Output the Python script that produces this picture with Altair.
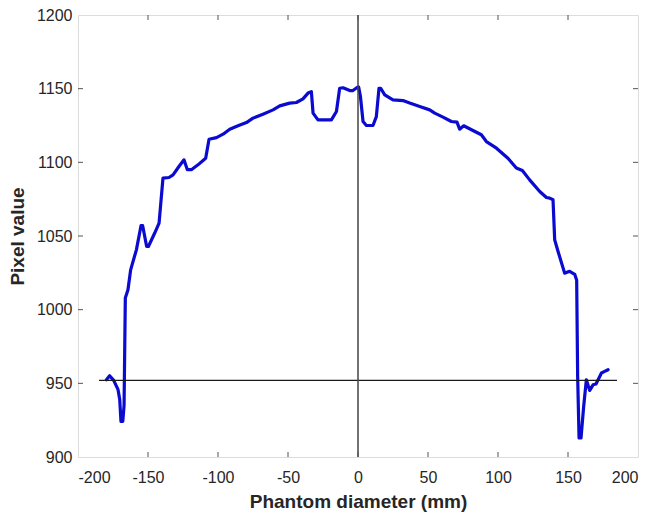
import altair as alt
import pandas as pd

# Profile curve
curve_x = [-179.7, -177.4, -174.5, -171.4, -170.2, -169.3, -168.0, -167.1, -166.2, -164.3,
           -162.4, -158.3, -155.0, -153.8, -151.0, -149.7, -145.2, -142.1, -139.3, -135.0,
           -132.1, -127.9, -124.3, -121.9, -119.0, -114.3, -108.8, -106.4, -101.1, -96.4,
           -91.6, -85.7, -79.7, -75.0, -67.9, -60.7, -55.9, -48.8, -44.0, -39.3,
           -35.7, -33.3, -32.1, -28.6, -19.0, -15.4, -13.1, -10.7, -5.9, -3.6,
           -0.4, 0.5, 1.7, 3.6, 6.0, 10.7, 13.1, 15.0, 16.2, 19.1,
           25.0, 32.1, 36.9, 44.1, 51.2, 54.8, 60.7, 66.7, 70.7, 72.6,
           75.5, 82.1, 88.1, 91.7, 98.9, 107.1, 113.1, 117.4, 122.6, 129.8,
           134.6, 136.9, 139.3, 140.5, 142.9, 147.6, 151.2, 154.8, 156.2, 156.9,
           157.9, 159.3, 161.2, 163.1, 165.5, 167.9, 170.0, 173.9, 176.2, 178.6]
curve_y = [952.4, 955.2, 952.0, 945.7, 939.0, 924.2, 924.2, 935.0, 1008.0, 1013.5,
           1027.0, 1040.6, 1057.0, 1057.0, 1043.0, 1042.9, 1052.0, 1058.7, 1089.3, 1089.7,
           1091.5, 1097.2, 1101.7, 1095.0, 1095.0, 1098.3, 1102.8, 1115.7, 1116.8, 1119.1,
           1122.5, 1124.8, 1127.0, 1130.0, 1132.7, 1135.6, 1138.3, 1140.2, 1140.6, 1143.1,
           1147.0, 1148.0, 1133.4, 1128.8, 1128.8, 1134.5, 1150.3, 1150.6, 1148.7, 1148.7,
           1151.0, 1151.0, 1145.0, 1127.7, 1125.0, 1125.0, 1131.0, 1150.3, 1150.3, 1145.8,
           1142.4, 1141.9, 1140.2, 1137.9, 1135.6, 1133.4, 1130.7, 1127.7, 1127.3, 1122.5,
           1124.8, 1121.6, 1118.7, 1114.1, 1109.6, 1102.8, 1096.1, 1094.4, 1088.1, 1080.2,
           1076.1, 1075.7, 1074.6, 1047.4, 1039.5, 1024.8, 1026.0, 1024.0, 1020.0, 954.7,
           912.9, 912.9, 934.3, 952.4, 945.2, 949.0, 949.5, 957.0, 958.1, 959.2]

# Reference lines
hline_x = [-185.0]
hline_x2 = [185.0]
hline_y = [952.0]
vline_x = [0.0]

# Axis ticks
x_ticks = [-200, -150, -100, -50, 0, 50, 100, 150, 200]
y_ticks = [900, 950, 1000, 1050, 1100, 1150, 1200]

W, H = 560, 442
FONT = "Liberation Sans"

xscale = alt.Scale(domain=[-200, 200], nice=False, zero=False)
yscale = alt.Scale(domain=[900, 1200], nice=False, zero=False)

xaxis = alt.Axis(values=x_ticks, title="Phantom diameter (mm)", ticks=False, domain=False,
                 grid=False, labelPadding=12, titlePadding=7, labelFontSize=16,
                 titleFontSize=19, labelColor="#262626", titleColor="#262626",
                 labelFont=FONT, titleFont=FONT, titleFontWeight="bold",
                 labelExpr="toString(datum.value)")
yaxis = alt.Axis(values=y_ticks, title="Pixel value", ticks=False, domain=False,
                 grid=False, labelPadding=6, titlePadding=9, labelFontSize=16,
                 titleFontSize=19, labelColor="#262626", titleColor="#262626",
                 labelFont=FONT, titleFont=FONT, titleFontWeight="bold",
                 labelExpr="toString(datum.value)")

curve_df = pd.DataFrame({"x": curve_x, "y": curve_y})
curve = alt.Chart(curve_df).mark_line(color="#0a0ad0", strokeWidth=3.2,
                                      strokeJoin="round", strokeCap="round").encode(
    x=alt.X("x:Q", scale=xscale, axis=xaxis),
    y=alt.Y("y:Q", scale=yscale, axis=yaxis),
)

hdf = pd.DataFrame({"x": hline_x, "x2": hline_x2, "y": hline_y})
hline = alt.Chart(hdf).mark_rule(color="#1a1a1a", strokeWidth=1.2).encode(
    x=alt.X("x:Q", scale=xscale, axis=xaxis), x2="x2:Q",
    y=alt.Y("y:Q", scale=yscale, axis=yaxis),
)

vdf = pd.DataFrame({"x": vline_x})
vline = alt.Chart(vdf).mark_rule(color="#444444", strokeWidth=1.5).encode(
    x=alt.X("x:Q", scale=xscale, axis=xaxis),
)

xt_df = pd.DataFrame({"x": x_ticks[1:-1]})
yt_df = pd.DataFrame({"y": y_ticks[1:-1]})
tick_style = dict(color="#555555", strokeWidth=1)
xt_bottom = alt.Chart(xt_df).mark_rule(**tick_style).encode(
    x=alt.X("x:Q", scale=xscale, axis=xaxis), y=alt.value(H), y2=alt.value(H - 5))
xt_top = alt.Chart(xt_df).mark_rule(**tick_style).encode(
    x=alt.X("x:Q", scale=xscale, axis=xaxis), y=alt.value(0), y2=alt.value(5))
yt_left = alt.Chart(yt_df).mark_rule(**tick_style).encode(
    y=alt.Y("y:Q", scale=yscale, axis=yaxis), x=alt.value(0), x2=alt.value(5))
yt_right = alt.Chart(yt_df).mark_rule(**tick_style).encode(
    y=alt.Y("y:Q", scale=yscale, axis=yaxis), x=alt.value(W), x2=alt.value(W - 5))

chart = alt.layer(curve, hline, vline, xt_bottom, xt_top, yt_left, yt_right).properties(
    width=W, height=H,
    autosize=alt.AutoSizeParams(type="none"),
    padding={"left": 70, "top": 7, "right": 5, "bottom": 57},
).configure_view(stroke="#6e6e6e", strokeWidth=1).configure(background="white")

chart.save("out.html", embed_options={"renderer": "svg", "actions": False})
